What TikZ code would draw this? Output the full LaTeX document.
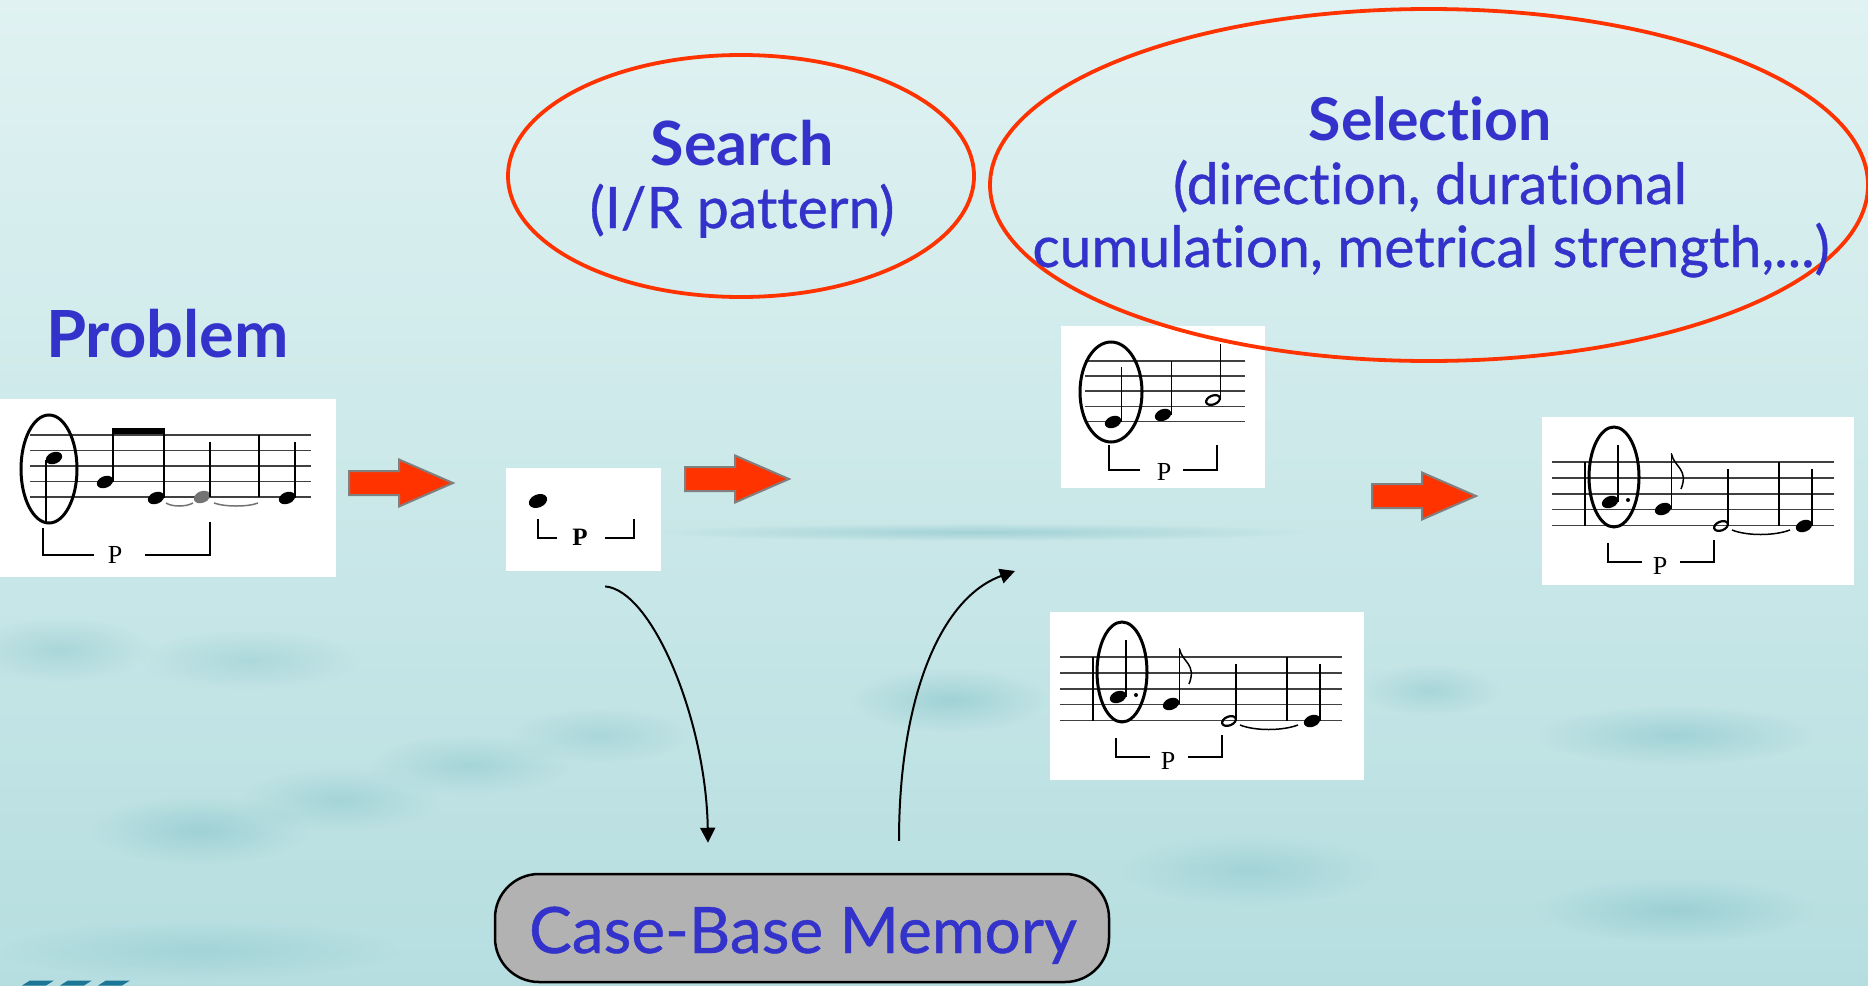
\documentclass[tikz,border=0pt]{standalone}
\usepackage{fontspec}
\setmainfont{Lato}[Ligatures=NoCommon]
\newfontface\labelreg{Lato}[Ligatures=NoCommon, FakeBold=0.7]
\newfontfamily\scorefont{Liberation Serif}
\usetikzlibrary{arrows.meta,fadings,shapes.geometric}

\definecolor{labelblue}{RGB}{51,51,204}
\definecolor{ringred}{RGB}{255,51,0}
\definecolor{bgtop}{RGB}{224,242,242}
\definecolor{bgmid}{RGB}{212,237,238}
\definecolor{bgbot}{RGB}{182,222,224}
\definecolor{haze}{RGB}{90,172,180}
\definecolor{memgray}{RGB}{178,178,178}
\definecolor{logoblue}{RGB}{28,118,150}

\tikzfading[name=softblob, inner color=transparent!0, outer color=transparent!100]

% filled and hollow note heads
\newcommand\scoreQ[2]{\fill[rotate around={22:(#1,#2)}] (#1,#2) ellipse (8.5 and 5.8);}
\newcommand\scoreH[2]{\draw[line width=2.2pt, rotate around={22:(#1,#2)}] (#1,#2) ellipse (7.2 and 4.4);}

\tikzset{
  heading/.style={text=labelblue, font=\fontsize{59}{60}\selectfont\bfseries, inner sep=0, anchor=base},
  subtext/.style={text=labelblue, font=\labelreg\fontsize{57}{58}\selectfont, inner sep=0, anchor=base},
  ring/.style={draw=ringred, line width=3.8pt, ellipse, inner sep=0},
  scorebox/.style={fill=white, draw=none, inner sep=0, anchor=north west},
  staff/.style={line width=1.8pt, draw=black!75},
  stemline/.style={line width=1.5pt},
  circling/.style={line width=3pt},
  bracketline/.style={line width=1.8pt},
  plabel/.style={font=\scorefont\fontsize{26}{26}\selectfont, inner sep=0},
  link/.style={line width=2pt, -{Triangle[length=15pt,width=15pt]}},
  blockarrow/.style={fill=ringred, draw=gray, line width=2pt, line join=miter},
  haze blob/.style={fill=haze, path fading=softblob},
  redarrow/.pic={
    \draw[blockarrow] (0,-12) -- (50,-12) -- (50,-23.5) -- (104,0) -- (50,23.5) -- (50,12) -- (0,12) -- cycle;
  },
  longscore/.pic={
    \foreach \y in {45,61,76.7,92.5,108.5} \draw[staff] (10,\y) -- (292,\y);
    \draw[stemline] (43,45) -- (43,108.5);
    \draw[stemline] (237,45) -- (237,108.5);
    \draw[circling] (72,60) ellipse (25 and 50);
    \scoreQ{68}{85} \draw[stemline] (76,85) -- (76,28);
    \fill (86,83) circle (2);
    \scoreQ{121}{92} \draw[stemline] (129.5,92) -- (129.5,36);
    \draw[stemline] (129.5,37) .. controls (132,50) and (147,52) .. (139,72);
    \scoreH{179}{109} \draw[stemline] (186,109) -- (186,52);
    \draw[line width=1.5pt] (190,113) .. controls (205,119) and (232,119) .. (248,113);
    \scoreQ{262}{109} \draw[stemline] (270,109) -- (270,52);
    \draw[bracketline] (66,126) -- (66,145) -- (100,145);
    \node[plabel] at (118,149) {P};
    \draw[bracketline] (138,145) -- (172,145) -- (172,123);
  }
}

\begin{document}
\begin{tikzpicture}[x=1pt, y=-1pt]
\useasboundingbox (0,0) rectangle (1868,985);

% hazy background
\shade[top color=bgtop, middle color=bgmid, bottom color=bgbot] (0,0) rectangle (1868,985);
\fill[haze blob, opacity=0.35] (980,532) ellipse (330 and 9);
\fill[haze blob, opacity=0.25] (60,650) ellipse (90 and 32);
\fill[haze blob, opacity=0.22] (250,660) ellipse (110 and 30);
\fill[haze blob, opacity=0.30] (200,830) ellipse (110 and 35);
\fill[haze blob, opacity=0.25] (340,800) ellipse (100 and 32);
\fill[haze blob, opacity=0.25] (470,765) ellipse (100 and 30);
\fill[haze blob, opacity=0.22] (600,735) ellipse (90 and 28);
\fill[haze blob, opacity=0.32] (950,700) ellipse (100 and 32);
\fill[haze blob, opacity=0.25] (1430,690) ellipse (70 and 26);
\fill[haze blob, opacity=0.30] (1675,735) ellipse (140 and 30);
\fill[haze blob, opacity=0.25] (1250,870) ellipse (130 and 36);
\fill[haze blob, opacity=0.30] (1675,910) ellipse (140 and 32);
\fill[haze blob, opacity=0.22] (200,950) ellipse (200 and 30);

% corner logo marks
\foreach \x in {22,60,98}
  \fill[logoblue] (\x,985.5) -- (\x+8,980.5) -- (\x+32,980.5) -- (\x+24,985.5) -- cycle;

% problem melody
\node[heading, anchor=base west, font=\fontsize{65}{65}\selectfont\bfseries] (problem) at (46,357) {Problem};
\node[scorebox, minimum width=336, minimum height=178] (sc1) at (0,399) {};
\foreach \y in {435,450.5,466,481.5,497} \draw[staff] (30,\y) -- (311,\y);
\draw[circling] (49,469) ellipse (28 and 54);
\scoreQ{54}{458} \draw[stemline] (46,460) -- (46,522);
\scoreQ{105}{482} \draw[stemline] (113,482) -- (113,430);
\scoreQ{156}{498} \draw[stemline] (164,498) -- (164,430);
\fill (112.3,428) rectangle (164.7,434);
\begin{scope}[black!55]
  \scoreQ{202}{497}
  \draw[line width=1.5pt] (166,503) .. controls (172,507) and (186,507) .. (193,503);
  \draw[line width=1.5pt] (214,503) .. controls (225,507) and (248,507) .. (258,503);
\end{scope}
\draw[stemline] (210,497) -- (210,442);
\draw[stemline] (259,435) -- (259,497);
\scoreQ{287}{498} \draw[stemline] (295,498) -- (295,442);
\draw[bracketline] (43,528) -- (43,555) -- (94,555);
\node[plabel] (p1) at (115,555) {P};
\draw[bracketline] (145,555) -- (210,555) -- (210,522);

% first note alone
\node[scorebox, minimum width=155, minimum height=103] (sc2) at (506,468) {};
\fill[rotate around={22:(538,501)}] (538,501) ellipse (9.5 and 6.5);
\draw[bracketline, line width=2.4pt] (538,519) -- (538,538) -- (557,538);
\node[plabel, font=\scorefont\bfseries\fontsize{25}{25}\selectfont] (p2) at (580,537) {P};
\draw[bracketline, line width=2.4pt] (605,538) -- (634,538) -- (634,519);

% retrieved case A
\node[scorebox, minimum width=204, minimum height=162] (sc3) at (1061,326) {};
\foreach \y in {361,376,391,406.5,421.5} \draw[staff] (1085,\y) -- (1245,\y);
\draw[circling] (1111,392) ellipse (31 and 50);
\scoreQ{1113}{422} \draw[stemline] (1121.5,422) -- (1121.5,367);
\scoreQ{1163}{415} \draw[stemline] (1171.5,415) -- (1171.5,361);
\scoreH{1213}{400} \draw[stemline] (1220.5,400) -- (1220.5,344);
\draw[bracketline] (1109,445) -- (1109,470) -- (1140,470);
\node[plabel] (p3) at (1164,472) {P};
\draw[bracketline] (1183,470) -- (1217,470) -- (1217,445);

% retrieved case B and the chosen solution
\node[scorebox, minimum width=314, minimum height=168] (sc4) at (1050,612) {};
\pic at (sc4.north west) {longscore};
\node[scorebox, minimum width=312, minimum height=168] (sc5) at (1542,417) {};
\pic at (sc5.north west) {longscore};

% process arrows
\pic at (349,483) {redarrow};
\pic at (685,479) {redarrow};
\pic at (1372,496) {redarrow};

% step labels
\node[ring, minimum width=466, minimum height=242] (search) at (741,176) {};
\node[heading, font=\fontsize{61}{61}\selectfont\bfseries] (searchT) at (742,165) {Search};
\node[subtext] (searchS) at (742,228) {(I/R pattern)};

\node[ring, minimum width=878, minimum height=352] (select) at (1429,185) {};
\node[heading] (selectT) at (1430,140) {Selection};
\node[subtext] (selectA) at (1430,204) {(direction, durational};
\node[subtext] (selectB) at (1431,267) {cumulation, metrical strength,...)};

% case base
\node[draw=black, line width=2.5pt, fill=memgray, rounded corners=44pt,
      minimum width=614, minimum height=108, inner sep=0] (mem) at (802,928) {};
\node[text=labelblue, font=\labelreg\fontsize{64}{64}\selectfont, anchor=base, inner sep=0] (memT) at (803,953) {Case-Base Memory};

% retrieval links
\coordinate (down0) at ([shift={(21.5,15)}]sc2.south);
\coordinate (down1) at ([shift={(-94,-30)}]mem.north);
\coordinate (up0) at ([shift={(97,-32)}]mem.north);
\coordinate (up1) at ([shift={(-35,-41)}]sc4.north west);
\draw[link] (down0) .. controls +(47,4) and +(-2,-123) .. (down1);
\draw[link] (up0) .. controls +(0,-142) and +(-75,27) .. (up1);
\end{tikzpicture}
\end{document}
